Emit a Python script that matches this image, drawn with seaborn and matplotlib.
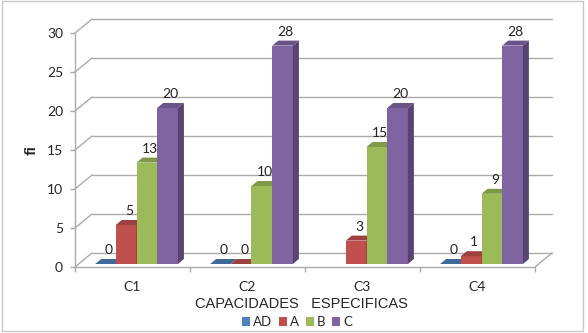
import numpy as np
import pandas as pd
import seaborn as sns
import matplotlib.pyplot as plt
from matplotlib.patches import Polygon, Patch, Rectangle

categories = ["C1", "C2", "C3", "C4"]
series = ["AD", "A", "B", "C"]
ad_vals = [0, 0, np.nan, 0]
a_vals = [5, 0, 3, 1]
b_vals = [13, 10, 15, 9]
c_vals = [20, 28, 20, 28]

front_colors = ["#4F81BD", "#C0504D", "#9BBB59", "#8064A2"]
top_colors = ["#41699A", "#9E403D", "#7E9A47", "#6A5388"]
side_colors = ["#375A85", "#853633", "#6C853B", "#584373"]

df = pd.DataFrame({
    "cat": categories * 4,
    "serie": [s for s in series for _ in categories],
    "fi": ad_vals + a_vals + b_vals + c_vals,
})

sns.set_style("white")
plt.rcParams["font.family"] = ["Lato", "DejaVu Sans"]

fig = plt.figure(figsize=(5.88, 3.33), dpi=100)
ax = fig.add_axes([75 / 588, 66 / 333, 460 / 588, 234 / 333])

sns.barplot(data=df, x="cat", y="fi", hue="serie", hue_order=series,
            palette=front_colors, width=0.72, legend=False, ax=ax,
            saturation=1, err_kws={"linewidth": 0})
ax.set_xlim(-0.5, 3.5)
ax.set_ylim(0, 30)

# pixel -> data conversion
bb = ax.get_window_extent()
xpp = 4 / bb.width
ypp = 30 / bb.height
wall_dx, wall_dy = 17 * xpp, 14 * ypp
shift_dx, shift_dy = 4 * xpp, 3 * ypp
bar_dx, bar_dy = 6 * xpp, 5 * ypp

grid_col = "#ABABAB"
# back wall and left wall grid lines
for v in range(0, 31, 5):
    ax.plot([-0.5, -0.5 + wall_dx], [v, v + wall_dy], color=grid_col, lw=1,
            zorder=1, clip_on=False)
    ax.plot([-0.5 + wall_dx, 3.5 + wall_dx], [v + wall_dy, v + wall_dy],
            color=grid_col, lw=1, zorder=1, clip_on=False)
ax.plot([3.5, 3.5 + wall_dx], [0, wall_dy], color=grid_col, lw=1,
        zorder=1, clip_on=False)

# bars with 3D faces
bars = []
for i, cont in enumerate(ax.containers):
    for p in cont.patches:
        if np.isnan(p.get_height()):
            p.set_visible(False)
            continue
        bars.append((p.get_x(), i, p))
bars.sort(key=lambda t: t[0])
for k, (x0, i, p) in enumerate(bars):
    z = 2 + k * 0.01
    x = p.get_x() + shift_dx
    w = p.get_width()
    h = p.get_height()
    y0 = shift_dy
    p.set_x(x)
    p.set_y(y0)
    p.set_height(h)
    p.set_edgecolor("none")
    p.set_zorder(z)
    p.set_clip_on(False)
    top = Polygon([(x, y0 + h), (x + w, y0 + h), (x + w + bar_dx, y0 + h + bar_dy),
                   (x + bar_dx, y0 + h + bar_dy)], closed=True,
                  facecolor=top_colors[i], edgecolor="none", zorder=z, clip_on=False)
    side = Polygon([(x + w, y0), (x + w, y0 + h), (x + w + bar_dx, y0 + h + bar_dy),
                    (x + w + bar_dx, y0 + bar_dy)], closed=True,
                   facecolor=side_colors[i], edgecolor="none", zorder=z, clip_on=False)
    ax.add_patch(top)
    ax.add_patch(side)
    ax.text(x + w / 2 + bar_dx / 2, y0 + h + bar_dy + 3 * ypp, f"{int(h)}",
            ha="center", va="bottom", fontsize=10, color="#222222", zorder=5)

# axes styling
for s in ["top", "right"]:
    ax.spines[s].set_visible(False)
for s in ["left", "bottom"]:
    ax.spines[s].set_color(grid_col)
    ax.spines[s].set_linewidth(1)
ax.set_yticks(range(0, 31, 5))
ax.tick_params(axis="y", length=3.6, width=1, color=grid_col, pad=5,
               labelsize=10, left=True)
ax.set_xticks(range(4))
ax.set_xticklabels(categories)
ax.set_xticks(np.arange(-0.5, 3.6, 1), minor=True)
ax.tick_params(axis="x", which="major", length=0, pad=10, labelsize=10)
ax.tick_params(axis="x", which="minor", length=3.6, width=1, color=grid_col,
               bottom=True)
ax.set_xlabel("")
ax.set_ylabel("fi", fontsize=11.5, fontweight="bold", labelpad=6)

fig.text(301 / 588, 1 - 304 / 333, "CAPACIDADES   ESPECIFICAS",
         ha="center", va="center", fontsize=10.5, family="Liberation Sans")

handles = [Patch(facecolor=c, edgecolor="none") for c in front_colors]
fig.legend(handles, series, loc="center", bbox_to_anchor=(297 / 588, 1 - 322 / 333),
           ncol=4, frameon=False, handlelength=0.6, handleheight=0.6,
           handletextpad=0.25, columnspacing=0.5, fontsize=9.5)

fig.patches.append(Rectangle((0.003, 0.006), 0.988, 0.99, transform=fig.transFigure,
                             fill=False, edgecolor="#C8C8C8", lw=1))

fig.savefig("out.png", dpi=100)
